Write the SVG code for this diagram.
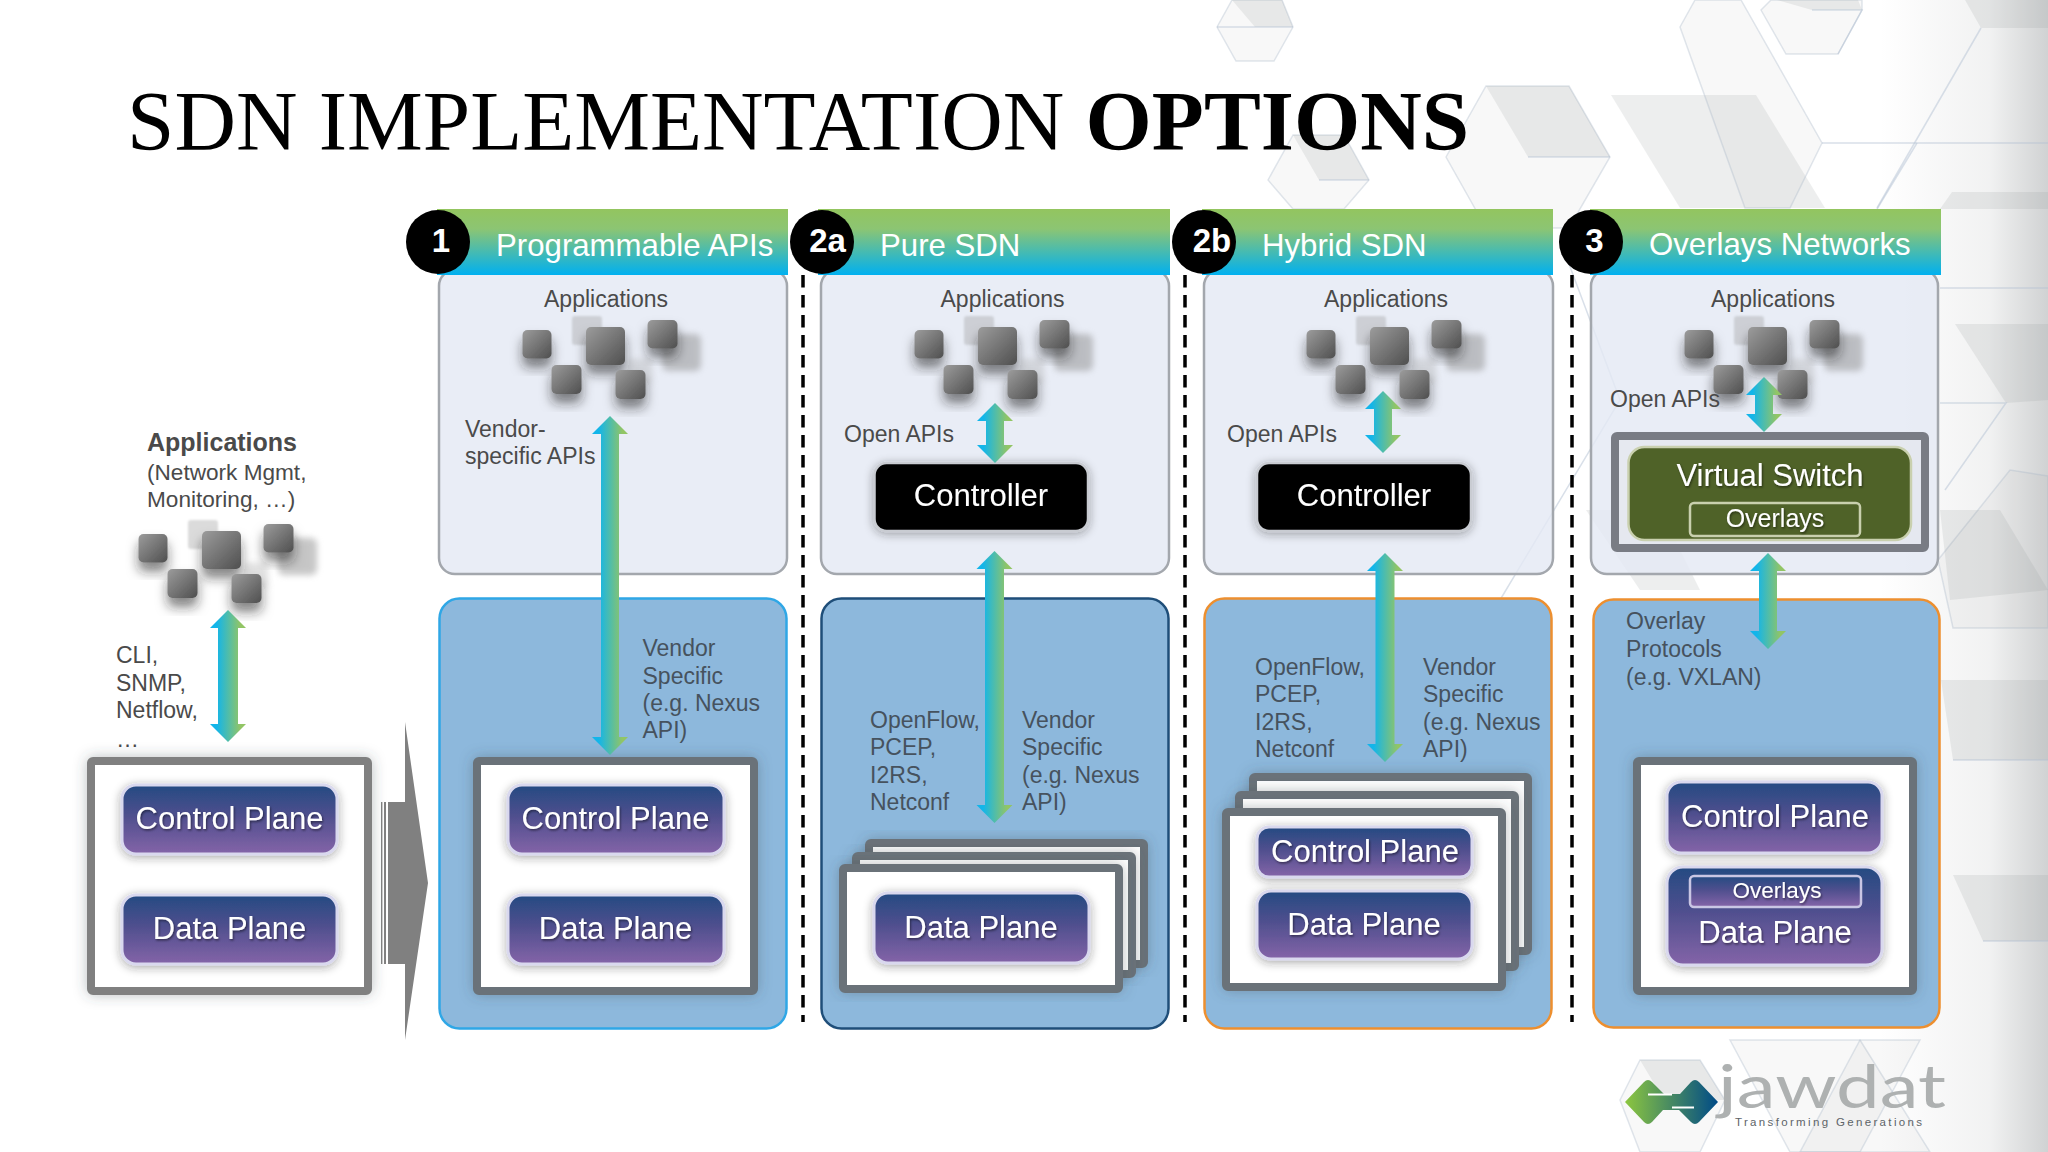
<svg xmlns="http://www.w3.org/2000/svg" width="2048" height="1152" viewBox="0 0 2048 1152">
<style>
text{font-family:"Liberation Sans",Arial,sans-serif}
.title{font-family:"Liberation Serif","Times New Roman",serif;font-size:85.2px;fill:#000}
.lbl{font-size:23px;fill:#4a4a4a}
.lblb{font-size:23px;fill:#46525e}
.hd{font-size:31.2px;fill:#fff}
.num{font-size:33px;font-weight:bold;fill:#fff;text-anchor:middle}
.pl{font-size:31px;fill:#fff;text-anchor:middle;filter:url(#ts)}
.ov{fill:#fff;text-anchor:middle;filter:url(#ts)}
.top{fill:#e3e9f4;fill-opacity:.8;stroke:#a3a7ad;stroke-width:2.5}
.low{fill:#8db8dc;stroke-width:2.5}
.plane{fill:url(#gp);stroke:#d9d8ee;stroke-width:3;filter:url(#glow)}
.ctl{fill:#000;stroke:#c9ccd2;stroke-width:2.5;filter:url(#glow)}
.fr{fill:#fff;stroke:#6a7279;stroke-width:8;filter:url(#frs)}
.hdr{fill:url(#gh)}
.dash{stroke:#000;stroke-width:3.5;stroke-dasharray:12.5 7.5;fill:none}
.arr{fill:url(#ga)}
.f1{fill:#8d9496;fill-opacity:.16;stroke:none}
.f2{fill:#9aa0a2;fill-opacity:.07;stroke:#aab8c8;stroke-opacity:.35;stroke-width:1.5}
.l1{fill:none;stroke:#b4c2d4;stroke-opacity:.5;stroke-width:1.5}
</style>
<defs>
<linearGradient id="gh" x1="0" y1="0" x2="0" y2="1"><stop offset="0" stop-color="#93c55f"/><stop offset=".3" stop-color="#8cc573"/><stop offset="1" stop-color="#00b0f0"/></linearGradient>
<linearGradient id="ga" x1="0" y1="0" x2="1" y2="0"><stop offset=".18" stop-color="#12b5ea"/><stop offset=".85" stop-color="#92c565"/></linearGradient>
<linearGradient id="gp" x1="0" y1="0" x2="0" y2="1"><stop offset="0" stop-color="#244b82"/><stop offset=".45" stop-color="#4f4f8e"/><stop offset="1" stop-color="#8464a8"/></linearGradient>
<linearGradient id="gs" x1="0" y1="0" x2="1" y2="1"><stop offset="0" stop-color="#9c9c9c"/><stop offset="1" stop-color="#4f4f4f"/></linearGradient>
<linearGradient id="gl" x1="0" y1="0" x2="1" y2="0"><stop offset="0" stop-color="#8cc63f"/><stop offset="1" stop-color="#004b87"/></linearGradient>
<linearGradient id="ge" x1="0" y1="0" x2="1" y2="0"><stop offset="0" stop-color="#c8cacb" stop-opacity="0"/><stop offset=".65" stop-color="#c8cacb" stop-opacity=".25"/><stop offset="1" stop-color="#c8cacb" stop-opacity=".85"/></linearGradient>
<filter id="ts" x="-10%" y="-20%" width="120%" height="150%"><feDropShadow dx="1" dy="1.5" stdDeviation="1" flood-color="#000" flood-opacity=".5"/></filter>
<filter id="glow" x="-15%" y="-25%" width="130%" height="155%"><feDropShadow dx="0" dy="2" stdDeviation="5" flood-color="#222" flood-opacity=".4"/></filter>
<filter id="frs" x="-10%" y="-10%" width="120%" height="120%"><feDropShadow dx="0" dy="0" stdDeviation="7" flood-color="#3c4650" flood-opacity=".35"/></filter>
<filter id="sq" x="-50%" y="-50%" width="200%" height="210%"><feDropShadow dx="0" dy="9" stdDeviation="6" flood-color="#222" flood-opacity=".55"/></filter>
<filter id="bl" x="-30%" y="-30%" width="160%" height="160%"><feGaussianBlur stdDeviation="3"/></filter>
<filter id="bs" x="-20%" y="-20%" width="140%" height="140%"><feGaussianBlur stdDeviation="1.2"/></filter>
<g id="apps">
<rect x="278" y="538" width="39" height="37" rx="6" fill="#8f8f8f" opacity=".5" filter="url(#bl)"/>
<rect x="188" y="520" width="30" height="29" rx="3" fill="#9a9a9a" opacity=".35" filter="url(#bs)"/>
<rect x="244" y="563" width="24" height="25" rx="3" fill="#aaa" opacity=".35" filter="url(#bl)"/>
<rect x="138.500" y="534" width="29" height="28.500" rx="5" fill="url(#gs)" filter="url(#sq)"/>
<rect x="202" y="531" width="39" height="38" rx="5" fill="url(#gs)" filter="url(#sq)"/>
<rect x="263.500" y="524" width="30" height="28.500" rx="5" fill="url(#gs)" filter="url(#sq)"/>
<rect x="167.500" y="569" width="30" height="29" rx="5" fill="url(#gs)" filter="url(#sq)"/>
<rect x="231.500" y="574" width="30" height="29" rx="5" fill="url(#gs)" filter="url(#sq)"/>
</g>
</defs>
<rect id="bg" width="2048" height="1152" fill="#fff"/>
<g id="background">
<rect x="1880" y="0" width="168" height="1152" fill="url(#ge)"/>
<polygon class="f2" points="1217,27 1232,0 1282,0 1293,27 1274,61 1236,61"/>
<polygon class="f1" points="1232,0 1282,0 1293,27 1255,27"/>
<polyline class="l1" points="1217,27 1255,27 1293,27 M1255,27 1236,61"/>
<polygon class="f2" points="1268,180 1293,135 1344,135 1369,180 1344,209 1293,209"/>
<polygon class="f1" points="1293,135 1344,135 1369,180 1319,180"/>
<polyline class="l1" points="1319,180 1369,180"/>
<polygon class="f2" points="1446,157 1486,86 1569,86 1610,157 1569,228 1486,228"/>
<polygon class="f1" points="1486,86 1569,86 1610,157 1528,157"/>
<polyline class="l1" points="1528,157 1610,157"/>
<polygon class="f1" points="1611,95 1756,95 1825,208 1680,208"/>
<polygon class="f2" points="1680,27 1695,0 1741,0 1822,143 1790,208 1745,208"/>
<polygon class="f2" points="1761,10 1771,0 1862,0 1862,10 1838,54 1786,54"/>
<polygon class="f1" points="1777,0 1858,0 1862,10 1812,10"/>
<polyline class="l1" points="1812,10 1862,10 1838,54"/>
<polyline class="l1" points="1822,143 2048,143"/>
<polyline class="l1" points="1917,143 1877,209"/>
<polyline class="l1" points="1981,28 1877,208"/>
<polygon class="f1" points="1965,0 2048,0 2048,28 1981,28"/>
<polygon class="f1" points="1952,192 2048,192 2048,209 1940,209"/>
<polygon class="f1" points="1955,324 2048,324 2048,400 2006,403 1955,324"/>
<polyline class="l1" points="1940,288 2048,288"/>
<polyline class="l1" points="1940,403 2006,403 1945,490"/>
<polygon class="f2" points="1953,628 2048,628 2048,476 2010,470 1938,560"/>
<polygon class="f1" points="1941,680 2048,680 2048,760 1953,760"/>
<polyline class="l1" points="1953,760 2048,760 M1953,760 2048,640 M1941,745 1953,760"/>
<polygon class="f1" points="1953,875 2048,875 2048,941 1983,941"/>
<polyline class="l1" points="1983,941 2048,941 M1983,941 2048,1062 M1983,941 1912,1040"/>
<polygon class="f2" points="1730,1040 1860,1040 1930,1152 1790,1152"/>
<polygon class="f2" points="1860,1040 1920,1040 1860,1152 1800,1152"/>
<polygon class="f1" points="1640,1060 1700,1060 1725,1100 1664,1100"/>
<polygon class="f2" points="1640,1060 1700,1060 1725,1100 1700,1152 1640,1152 1620,1100"/>
<polyline class="l1" points="1560,240 1620,400 1500,600 M1600,240 1715,560 M1620,440 1940,440 M1650,570 1930,570 M1490,450 1560,450"/>
<polygon class="f1" points="1586,510 1660,510 1700,590 1640,590"/>
<polygon class="f1" points="1940,510 2000,510 2048,590 1950,600"/>
</g>
<g id="title"><text class="title" x="127" y="150">SDN IMPLEMENTATION <tspan font-weight="bold">OPTIONS</tspan></text></g>
<g id="dividers">
<line class="dash" x1="803" y1="275" x2="803" y2="1022"/>
<line class="dash" x1="1185" y1="275" x2="1185" y2="1022"/>
<line class="dash" x1="1572" y1="275" x2="1572" y2="1022"/>
</g>
<g id="legacy">
<use href="#apps"/>
<text class="lbl" x="147" y="451" font-weight="bold" style="font-size:25px">Applications</text>
<text class="lbl" x="147" y="480" style="font-size:22.6px">(Network Mgmt,</text>
<text class="lbl" x="147" y="507" style="font-size:22.6px">Monitoring, …)</text>
<text class="lbl" x="116" y="663">CLI,</text>
<text class="lbl" x="116" y="691">SNMP,</text>
<text class="lbl" x="116" y="718">Netflow,</text>
<text class="lbl" x="116" y="747">…</text>
<rect x="91" y="761" width="277" height="230" rx="2" fill="#fff" stroke="#808080" stroke-width="8" filter="url(#frs)"/>
<rect class="plane" x="122" y="785" width="215" height="69" rx="14"/>
<text class="pl" x="229.500" y="829">Control Plane</text>
<rect class="plane" x="122" y="895" width="215" height="69" rx="14"/>
<text class="pl" x="229.500" y="939">Data Plane</text>
</g>
<g id="migrate-arrow" fill="#808080">
<rect x="381" y="802" width="1.400" height="162"/>
<rect x="384" y="802" width="2" height="162"/>
<polygon points="388,802 405,802 405,722 428,883 405,1040 405,964 388,964"/>
</g>
<g id="col1-programmable">
<rect class="top" x="439" y="270" width="348" height="304" rx="16"/>
<rect class="hdr" x="437" y="209" width="351" height="66"/>
<circle cx="438" cy="242" r="32" fill="#000"/>
<text class="num" x="441" y="252">1</text>
<text class="hd" x="496" y="256">Programmable APIs</text>
<text class="lbl" x="544" y="307">Applications</text>
<use href="#apps" x="384" y="-204"/>
<text class="lbl" x="465" y="437">Vendor-</text>
<text class="lbl" x="465" y="464">specific APIs</text>
<rect class="low" stroke="#2fa7e6" x="439.500" y="598.500" width="347" height="430" rx="20"/>
<text class="lblb" x="642.500" y="656">Vendor</text>
<text class="lblb" x="642.500" y="684">Specific</text>
<text class="lblb" x="642.500" y="711">(e.g. Nexus</text>
<text class="lblb" x="642.500" y="738">API)</text>
<rect class="fr" x="477" y="761" width="277" height="230" rx="2"/>
<rect class="plane" x="508" y="785" width="216" height="69" rx="14"/>
<text class="pl" x="615.500" y="829">Control Plane</text>
<rect class="plane" x="508" y="895" width="216" height="69" rx="14"/>
<text class="pl" x="615.500" y="939">Data Plane</text>
</g>
<g id="col2-pure-sdn">
<rect class="top" x="821" y="270" width="348" height="304" rx="16"/>
<rect class="hdr" x="818" y="209" width="352" height="66"/>
<circle cx="822" cy="242" r="32" fill="#000"/>
<text class="num" x="827.500" y="252">2a</text>
<text class="hd" x="880" y="256">Pure SDN</text>
<text class="lbl" x="940.500" y="307">Applications</text>
<use href="#apps" x="776" y="-204"/>
<text class="lbl" x="844" y="442">Open APIs</text>
<rect class="ctl" x="874.500" y="463" width="213.500" height="68" rx="12"/>
<text class="pl" x="981" y="506">Controller</text>
<rect class="low" stroke="#1f4e79" x="821.500" y="598.500" width="347" height="430" rx="20"/>
<text class="lblb" x="870" y="728">OpenFlow,</text>
<text class="lblb" x="870" y="755">PCEP,</text>
<text class="lblb" x="870" y="783">I2RS,</text>
<text class="lblb" x="870" y="810">Netconf</text>
<text class="lblb" x="1022" y="728">Vendor</text>
<text class="lblb" x="1022" y="755">Specific</text>
<text class="lblb" x="1022" y="783">(e.g. Nexus</text>
<text class="lblb" x="1022" y="810">API)</text>
<rect class="fr" x="869" y="843" width="275" height="121" rx="2"/>
<rect class="fr" x="856" y="856" width="276" height="118" rx="2"/>
<rect class="fr" x="843" y="868" width="276" height="121" rx="2"/>
<rect class="plane" x="874" y="893" width="215" height="70" rx="14"/>
<text class="pl" x="981" y="938">Data Plane</text>
</g>
<g id="col3-hybrid-sdn">
<rect class="top" x="1204" y="270" width="349" height="304" rx="16"/>
<rect class="hdr" x="1202" y="209" width="351" height="66"/>
<circle cx="1204" cy="242" r="32" fill="#000"/>
<text class="num" x="1212" y="252">2b</text>
<text class="hd" x="1262" y="256">Hybrid SDN</text>
<text class="lbl" x="1324" y="307">Applications</text>
<use href="#apps" x="1168" y="-204"/>
<text class="lbl" x="1227" y="442">Open APIs</text>
<rect class="ctl" x="1257" y="463" width="214" height="68" rx="12"/>
<text class="pl" x="1364" y="506">Controller</text>
<rect class="low" stroke="#ed8f2f" x="1204.500" y="598.500" width="347" height="430" rx="20"/>
<text class="lblb" x="1255" y="675">OpenFlow,</text>
<text class="lblb" x="1255" y="702">PCEP,</text>
<text class="lblb" x="1255" y="730">I2RS,</text>
<text class="lblb" x="1255" y="757">Netconf</text>
<text class="lblb" x="1423" y="675">Vendor</text>
<text class="lblb" x="1423" y="702">Specific</text>
<text class="lblb" x="1423" y="730">(e.g. Nexus</text>
<text class="lblb" x="1423" y="757">API)</text>
<rect class="fr" x="1253" y="777" width="275" height="174" rx="2"/>
<rect class="fr" x="1239" y="795" width="276" height="172" rx="2"/>
<rect class="fr" x="1226" y="812" width="276" height="175" rx="2"/>
<rect class="plane" x="1257" y="827" width="215" height="50" rx="12"/>
<text class="pl" x="1365" y="862">Control Plane</text>
<rect class="plane" x="1257" y="891" width="215" height="68" rx="14"/>
<text class="pl" x="1364" y="935">Data Plane</text>
</g>
<g id="col4-overlays">
<rect class="top" x="1591" y="270" width="347" height="304" rx="16"/>
<rect class="hdr" x="1590" y="209" width="351" height="66"/>
<circle cx="1591" cy="242" r="32" fill="#000"/>
<text class="num" x="1594.500" y="252">3</text>
<text class="hd" x="1649" y="254.500">Overlays Networks</text>
<text class="lbl" x="1711" y="307">Applications</text>
<use href="#apps" x="1546" y="-204"/>
<text class="lbl" x="1610" y="407">Open APIs</text>
<rect x="1615" y="436" width="310" height="112" fill="#e4e7ee" fill-opacity=".75" stroke="#797c84" stroke-width="8" rx="2"/>
<rect x="1628.500" y="447" width="282.500" height="93" rx="16" fill="#4f6228" stroke="#c9d0ae" stroke-width="2.500"/>
<text class="pl" x="1770" y="486">Virtual Switch</text>
<rect x="1690" y="503" width="170" height="33" rx="4" fill="#4f6228" stroke="#c9d0ae" stroke-width="2.500"/>
<text class="ov" x="1775" y="527" font-size="25">Overlays</text>
<rect class="low" stroke="#ed8f2f" x="1593.500" y="599.500" width="346" height="428" rx="20"/>
<text class="lblb" x="1626" y="629">Overlay</text>
<text class="lblb" x="1626" y="657">Protocols</text>
<text class="lblb" x="1626" y="685">(e.g. VXLAN)</text>
<rect class="fr" x="1637" y="761" width="276" height="230" rx="2"/>
<rect class="plane" x="1667" y="782" width="215" height="71" rx="14"/>
<text class="pl" x="1775" y="827">Control Plane</text>
<rect class="plane" x="1667" y="867" width="215" height="98" rx="16"/>
<rect x="1690" y="876" width="171" height="31" rx="4" fill="url(#gp)" stroke="#c9c6e4" stroke-width="2.500"/>
<text class="ov" x="1777" y="898" font-size="22.500">Overlays</text>
<text class="pl" x="1775" y="943">Data Plane</text>
</g>
<g id="connectors">
<path class="arr" d="M228 610L246 628H238V724H246L228 742L210 724H218V628H210Z"/>
<path class="arr" d="M610 416L628 434H619V737H628L610 755L592 737H601V434H592Z"/>
<path class="arr" d="M995 403L1013 421H1004V445H1013L995 463L977 445H986V421H977Z"/>
<path class="arr" d="M994.500 551L1012.500 569H1004V805H1012.500L994.500 823L976.500 805H985V569H976.500Z"/>
<path class="arr" d="M1383 391L1401 409H1392V435H1401L1383 453L1365 435H1374V409H1365Z"/>
<path class="arr" d="M1385 553L1403 571H1394.500V744H1403L1385 762L1367 744H1375.500V571H1367Z"/>
<path class="arr" d="M1764 377L1782 395H1773V414H1782L1764 432L1746 414H1755V395H1746Z"/>
<path class="arr" d="M1768 553L1786 571H1777V631H1786L1768 649L1750 631H1759V571H1750Z"/>
</g>
<g id="logo">
<path d="M1625 1102L1644 1082Q1648 1078 1652 1082L1664 1094H1680L1691 1082Q1695 1078 1699 1082L1718 1102L1699 1122Q1695 1126 1691 1122L1679 1110H1663L1652 1122Q1648 1126 1644 1122Z" fill="url(#gl)"/>
<line x1="1648" y1="1094.500" x2="1672" y2="1094.500" stroke="#fff" stroke-width="2"/>
<line x1="1672" y1="1107.500" x2="1694" y2="1107.500" stroke="#fff" stroke-width="2"/>
<text x="1718" y="1108" font-size="60" textLength="228" lengthAdjust="spacingAndGlyphs" style="font-family:Lato,'Liberation Sans',sans-serif;font-weight:400" fill="#aeb1b1">jawdat</text>
<text x="1735" y="1126" font-size="11.500" textLength="187" fill="#5d6468">Transforming Generations</text>
</g>
</svg>
